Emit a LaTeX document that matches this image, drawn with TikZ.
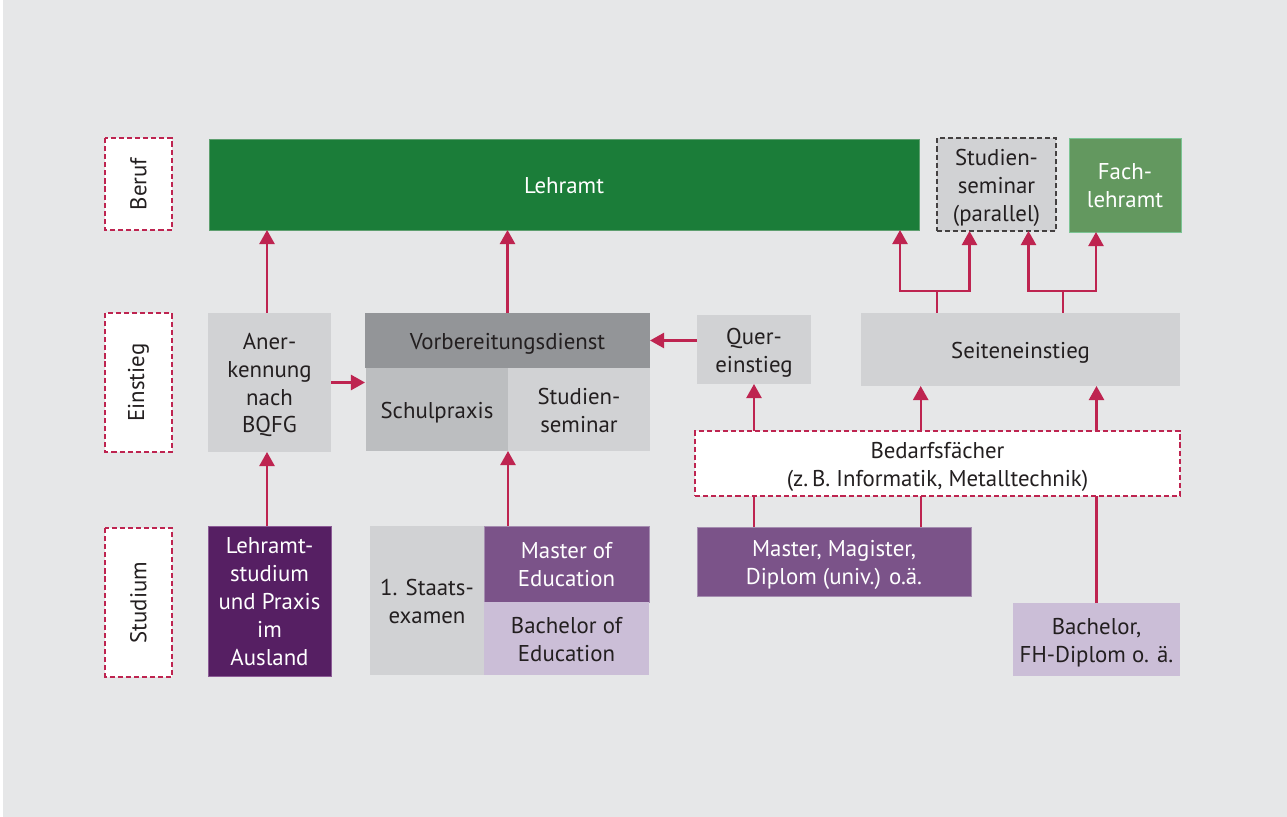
\documentclass[tikz,border=0pt]{standalone}
\usepackage{fontspec}
\setmainfont{PT Sans}
\usetikzlibrary{arrows.meta,calc}

\definecolor{bgc}{HTML}{E6E7E8}
\definecolor{crim}{HTML}{BE2450}
\definecolor{txt}{HTML}{231F20}
\definecolor{dgreen}{HTML}{1B7D39}
\definecolor{dgreenB}{HTML}{5E9F6F}
\definecolor{mgreen}{HTML}{63985F}
\definecolor{mgreenB}{HTML}{7CC494}
\definecolor{lgrey}{HTML}{D1D2D4}
\definecolor{mgrey}{HTML}{BCBEC0}
\definecolor{dgrey}{HTML}{939598}
\definecolor{dpurp}{HTML}{561F63}
\definecolor{dpurpB}{HTML}{8C5C96}
\definecolor{mpurp}{HTML}{7B5389}
\definecolor{mpurpB}{HTML}{A58DB0}
\definecolor{lpurp}{HTML}{CBBED7}

% centred lines of text, set a little below the middle of their box
\newcommand\boxtext[1]{\raisebox{0pt}[\dimexpr\height+3.4pt\relax][\depth]{%
  \begin{tabular}{@{}c@{}}#1\end{tabular}}}
% box given by its corners (in pixel units): name, x1, y1, x2, y2, style, text
\newcommand\pbox[7]{%
  \node[#6, minimum width={(#4-#2)*0.02cm}, minimum height={(#5-#3)*0.02cm}]
    (#1) at ({(#2+#4)/2},{(#3+#5)/2}) {\boxtext{#7}};}
% rotated level label (width and height swapped by the rotation)
\newcommand\plabel[6]{%
  \node[lvl, minimum width={(#5-#3)*0.02cm}, minimum height={(#4-#2)*0.02cm}]
    (#1) at ({(#2+#4)/2},{(#3+#5)/2}) {#6};}

\tikzset{
  base/.style={inner sep=0pt, outer sep=0pt, align=center, text=txt,
    font=\fontsize{13pt}{15.9pt}\selectfont},
  lvl/.style={base, rotate=90, fill=white, draw=crim, line width=1.1pt,
    dash pattern=on 2.9pt off 1.7pt},
  grey/.style={base, fill=lgrey},
  greym/.style={base, fill=mgrey},
  greyd/.style={base, fill=dgrey},
  parbox/.style={base, fill=lgrey, draw=txt!85, line width=1.1pt,
    dash pattern=on 2.9pt off 1.7pt},
  needbox/.style={base, fill=white, draw=crim, line width=1.1pt,
    dash pattern=on 2.9pt off 1.7pt},
  green/.style={base, fill=dgreen, draw=dgreenB, line width=0.5pt, text=white},
  greenl/.style={base, fill=mgreen, draw=mgreenB, line width=0.5pt, text=white},
  purpd/.style={base, fill=dpurp, draw=dpurpB, line width=0.5pt, text=white},
  purpm/.style={base, fill=mpurp, draw=mpurpB, line width=0.5pt, text=white},
  purpl/.style={base, fill=lpurp},
  ln/.style={draw=crim, line width=1.25pt},
  arr/.style={ln, -{Triangle[width=8.6pt,length=8pt]}},
}

\begin{document}
\begin{tikzpicture}[x=0.02cm, y=-0.02cm]
% canvas
\fill[white] (0,0) rectangle (1287,817);
\fill[bgc] (2.5,0) rectangle (1287,817);
\useasboundingbox (0,0) rectangle (1287,817);

% level labels
\plabel{beruf}{105}{138}{172}{230}{Beruf}
\plabel{einstieg}{105}{313}{172}{452}{Einstieg}
\plabel{studium}{105}{528}{172}{677}{Studium}

% Beruf row
\pbox{lehramt}{209}{139}{919}{230}{green}{Lehramt}
\pbox{studsem}{937}{138}{1056}{231}{parbox}{Studien-\\seminar\\(parallel)}
\pbox{fach}{1069}{138}{1181}{232}{greenl}{Fach-\\lehramt}

% Einstieg row
\pbox{anerk}{208}{313}{331}{452}{grey}{Aner-\\kennung\\nach\\BQFG}
\pbox{vb}{365}{313}{650}{368}{greyd}{Vorbereitungsdienst}
\pbox{schul}{366}{368}{508}{451}{greym}{Schulpraxis}
\pbox{semi}{508}{368}{650}{451}{grey}{Studien-\\seminar}
\pbox{quer}{697}{315}{811}{384}{grey}{Quer-\\einstieg}
\pbox{seiten}{861}{313}{1180}{386}{grey}{Seiteneinstieg}
\pbox{bedarf}{695}{431}{1180}{496}{needbox}{Bedarfsfächer\\(z.\,B. Informatik, Metalltechnik)}

% Studium row
\pbox{ausland}{208}{526}{331}{676}{purpd}{Lehramt-\\studium\\und Praxis\\im\\Ausland}
\pbox{staats}{370}{526}{484}{675}{grey}{1. Staats-\\examen}
\pbox{moe}{484}{526}{649}{602}{purpm}{Master of\\Education}
\pbox{boe}{484}{602}{649}{675}{purpl}{Bachelor of\\Education}
\pbox{master}{697}{527}{971}{596}{purpm}{Master, Magister,\\Diplom (univ.) o.ä.}
\pbox{bach}{1013}{603}{1180}{676}{purpl}{Bachelor,\\FH-Diplom o. ä.}

% forks above Seiteneinstieg
\coordinate (forkA) at (937,290.7);
\coordinate (forkB) at (1063,290.7);
% column of the second Master/Seiteneinstieg link
\coordinate (colM) at (920.7,0);

% connectors
\draw[arr] ($(anerk.north)+(-2.5,0)$) coordinate (a1) -- (a1 |- lehramt.south);
\draw[arr] ($(ausland.north)+(-2.5,0)$) coordinate (a2) -- (a2 |- anerk.south);
\draw[arr] (anerk.east) -- (anerk.east -| vb.west);
\draw[arr] (moe.north -| schul.east) -- (schul.south east);
\draw[arr] (vb.north) -- (vb.north |- lehramt.south);
\draw[arr] (quer.west |- vb.east) -- (vb.east);
\draw[arr] (bedarf.north -| quer.south) -- (quer.south);
\draw[ln]  (master.north -| quer.south) -- (bedarf.south -| quer.south);
\draw[ln]  (master.north -| colM) -- (bedarf.south -| colM);
\draw[arr] (bedarf.north -| colM) -- (seiten.south -| colM);
\draw[ln]  (bach.north) -- (bach.north |- bedarf.south);
\draw[arr] (bach.north |- bedarf.north) -- (bach.north |- seiten.south);
\draw[ln]  (seiten.north -| forkA) -- (forkA);
\draw[ln]  (seiten.north -| forkB) -- (forkB);
\draw[arr] (forkA) -| ($(lehramt.south east)+(-19,0)$);
\draw[arr] (forkA) -| ($(studsem.south west)+(32.5,0)$);
\draw[arr] (forkB) -| ($(studsem.south east)+(-27.5,0)$);
\draw[arr] (forkB) -| ($(fach.south west)+(27,0)$);
\end{tikzpicture}
\end{document}
